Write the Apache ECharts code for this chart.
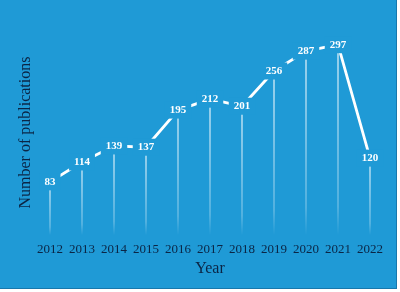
<!DOCTYPE html>
<html>
<head>
<meta charset="utf-8">
<script src="https://cdn.jsdelivr.net/npm/echarts@6/dist/echarts.min.js"></script>
<style>
  html, body { margin: 0; padding: 0; background: #ffffff; }
  #chart { width: 396px; height: 288px; border-right: 1px solid #1778ad; border-bottom: 1px solid #1778ad; }
</style>
</head>
<body>
<div id="chart"></div>
<script>
var years = ['2012', '2013', '2014', '2015', '2016', '2017', '2018', '2019', '2020', '2021', '2022'];
var publications = [83, 114, 139, 137, 195, 212, 201, 256, 287, 297, 120];

var bg = '#1f9ad6';
var chart = echarts.init(document.getElementById('chart'));

var option = {
  backgroundColor: bg,
  grid: {
    left: 34,
    right: 10,
    top: 30,
    bottom: 53
  },
  xAxis: {
    type: 'category',
    data: years,
    name: 'Year',
    nameLocation: 'middle',
    nameGap: 26,
    nameTextStyle: {
      fontFamily: 'Liberation Serif',
      fontSize: 16,
      color: '#0b2545'
    },
    axisLine: { show: false },
    axisTick: { show: false },
    axisLabel: {
      interval: 0,
      margin: 8,
      fontFamily: 'Liberation Serif',
      fontSize: 13,
      color: '#0b2545'
    }
  },
  yAxis: {
    type: 'value',
    min: 0,
    max: 320,
    name: 'Number of publications',
    nameLocation: 'middle',
    nameGap: 0,
    nameTextStyle: {
      fontFamily: 'Liberation Serif',
      fontSize: 16,
      color: '#0b2545'
    },
    axisLine: { show: false },
    axisTick: { show: false },
    axisLabel: { show: false },
    splitLine: { show: false }
  },
  series: [{
    type: 'bar',
    data: publications,
    barWidth: 1.5,
    z: 1,
    silent: true,
    itemStyle: {
      color: new echarts.graphic.LinearGradient(0, 0, 0, 1, [
        { offset: 0, color: 'rgba(255,255,255,0.75)' },
        { offset: 0.85, color: 'rgba(255,255,255,0.3)' },
        { offset: 1, color: 'rgba(255,255,255,0)' }
      ])
    }
  }, {
    type: 'line',
    data: publications,
    z: 3,
    symbol: 'circle',
    symbolSize: 1,
    itemStyle: { color: bg },
    lineStyle: { color: '#ffffff', width: 2.8 },
    label: {
      show: true,
      position: 'inside',
      fontFamily: 'Liberation Serif',
      fontWeight: 'bold',
      fontSize: 11,
      color: '#ffffff',
      backgroundColor: bg,
      padding: [3, 5]
    }
  }]
};

chart.setOption(option);
</script>
</body>
</html>
